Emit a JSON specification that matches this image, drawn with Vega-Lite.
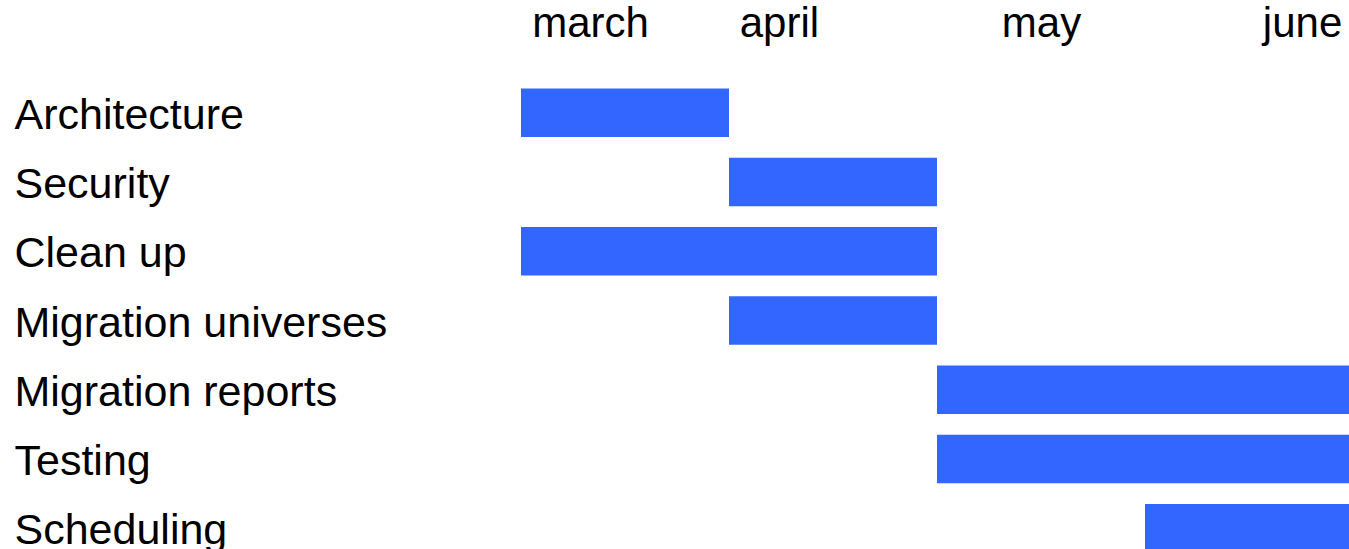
{
  "$schema": "https://vega.github.io/schema/vega-lite/v6.json",
  "autosize": {"type": "none"},
  "padding": {"left": 521, "top": 78, "right": 0, "bottom": 0},
  "width": 832,
  "height": 485,
  "background": "white",
  "config": {"view": {"stroke": null}, "font": "Liberation Sans"},
  "data": {
    "values": [
      {"task": "Architecture", "start": 0, "end": 1},
      {"task": "Security", "start": 1, "end": 2},
      {"task": "Clean up", "start": 0, "end": 2},
      {"task": "Migration universes", "start": 1, "end": 2},
      {"task": "Migration reports", "start": 2, "end": 4},
      {"task": "Testing", "start": 2, "end": 4},
      {"task": "Scheduling", "start": 3, "end": 4}
    ]
  },
  "mark": {"type": "bar", "color": "#3366FF"},
  "encoding": {
    "y": {
      "field": "task",
      "type": "nominal",
      "sort": null,
      "scale": {"paddingInner": 0.3, "paddingOuter": 0.15},
      "axis": {
        "title": null,
        "domain": false,
        "ticks": false,
        "labelAlign": "left",
        "labelPadding": 507,
        "labelOffset": 3,
        "labelFontSize": 43,
        "labelColor": "#000000",
        "labelFont": "Liberation Sans",
        "labelLimit": 0
      }
    },
    "x": {
      "field": "start",
      "type": "quantitative",
      "scale": {"domain": [0, 4], "nice": false, "zero": false},
      "axis": {
        "orient": "top",
        "title": null,
        "domain": false,
        "ticks": false,
        "grid": false,
        "values": [0.332, 1.24, 2.5, 3.755],
        "labelExpr": "datum.value < 1 ? 'march' : datum.value < 2 ? 'april' : datum.value < 3 ? 'may' : 'june'",
        "labelPadding": 33,
        "labelFontSize": 42,
        "labelColor": "#000000",
        "labelFont": "Liberation Sans",
        "labelFlush": false,
        "labelOverlap": false
      }
    },
    "x2": {"field": "end"}
  }
}
